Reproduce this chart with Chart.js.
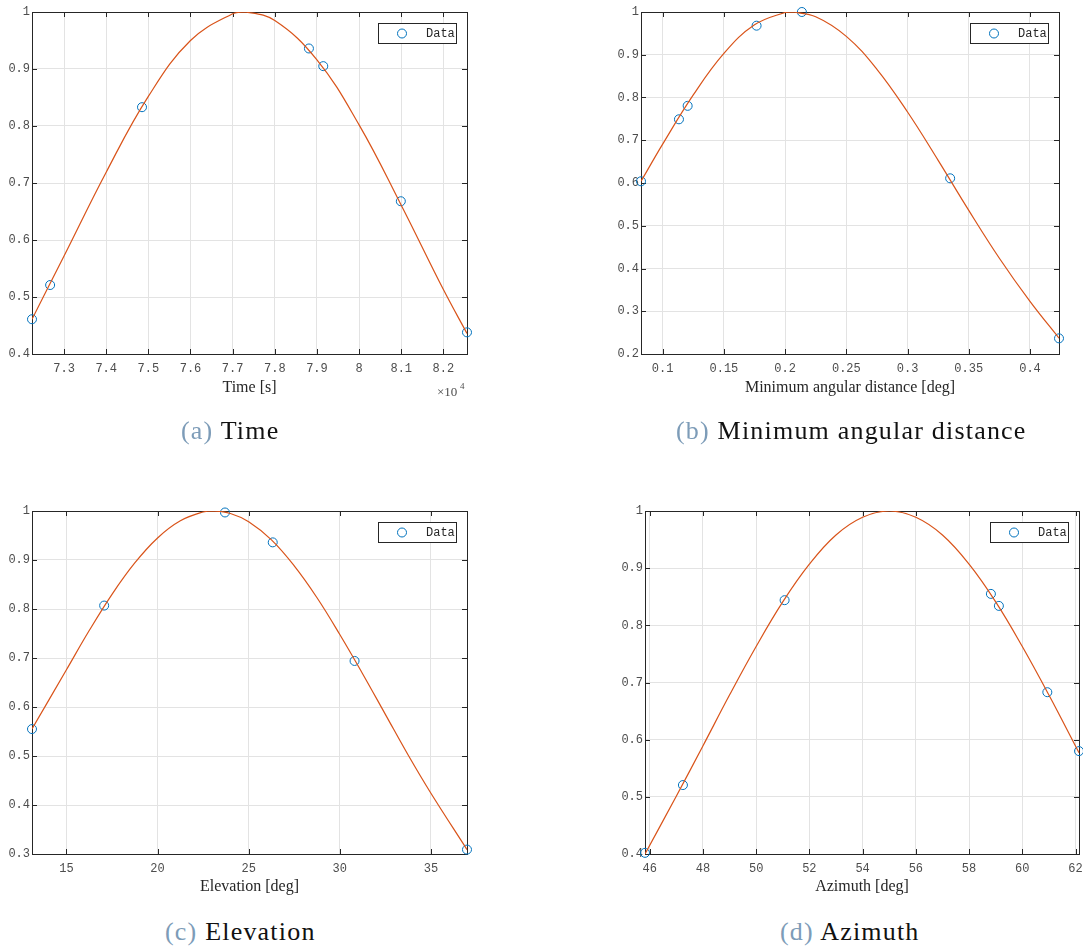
<!DOCTYPE html>
<html>
<head>
<meta charset="utf-8">
<script src="https://cdn.jsdelivr.net/npm/chart.js@4.4.0/dist/chart.umd.min.js"></script>
<style>
html, body { margin: 0; padding: 0; background: #fff; }
body { position: relative; width: 1083px; height: 950px; overflow: hidden; }
canvas { position: absolute; }
.cap { position: absolute; font-family: "Liberation Serif", serif; font-size: 26px; line-height: 30px; color: #111; white-space: nowrap; letter-spacing: 1.2px; }
.cap span { color: #7d9cb8; }
</style>
</head>
<body>
<canvas id="chartA" width="480" height="420" style="left:0;top:0"></canvas>
<canvas id="chartB" width="560" height="420" style="left:540px;top:0"></canvas>
<canvas id="chartC" width="480" height="420" style="left:0;top:490px"></canvas>
<canvas id="chartD" width="560" height="420" style="left:560px;top:490px"></canvas>
<div class="cap" style="left:181px;top:416px"><span>(a)</span> Time</div>
<div class="cap" style="left:676px;top:416px"><span>(b)</span> Minimum angular distance</div>
<div class="cap" style="left:165px;top:917px"><span>(c)</span> Elevation</div>
<div class="cap" style="left:780px;top:917px"><span>(d)</span> Azimuth</div>
<script>
// (a) time, x in units of 1e4 s
var timeX = [7.224, 7.267, 7.485, 7.881, 7.915, 8.099, 8.256];
var timeY = [0.461, 0.521, 0.833, 0.936, 0.905, 0.668, 0.438];
var timeFitX = [7.224, 7.3, 7.4, 7.5, 7.6, 7.7, 7.73, 7.8, 7.9, 8.0, 8.1, 8.2, 8.256];
var timeFitY = [0.461, 0.572, 0.719, 0.852, 0.950, 0.997, 1.0, 0.985, 0.916, 0.802, 0.661, 0.513, 0.436];
var timeTicksX = [7.3, 7.4, 7.5, 7.6, 7.7, 7.8, 7.9, 8, 8.1, 8.2];
var timeTicksY = [0.4, 0.5, 0.6, 0.7, 0.8, 0.9, 1];

// (b) minimum angular distance [deg]
var distX = [0.0823, 0.1133, 0.1204, 0.1767, 0.2137, 0.3348, 0.4237];
var distY = [0.604, 0.749, 0.7805, 0.968, 1.0, 0.611, 0.2366];
var distFitX = [0.0823, 0.1, 0.125, 0.15, 0.175, 0.2, 0.2055, 0.225, 0.25, 0.275, 0.3, 0.325, 0.35, 0.375, 0.4, 0.4237];
var distFitY = [0.604, 0.691, 0.806, 0.903, 0.970, 0.999, 1.0, 0.989, 0.943, 0.866, 0.766, 0.653, 0.536, 0.424, 0.323, 0.237];
var distTicksX = [0.1, 0.15, 0.2, 0.25, 0.3, 0.35, 0.4];
var distTicksY = [0.2, 0.3, 0.4, 0.5, 0.6, 0.7, 0.8, 0.9, 1];

// (c) elevation [deg]
var elevX = [13.11, 17.07, 23.70, 26.32, 30.81, 36.98];
var elevY = [0.555, 0.807, 0.997, 0.936, 0.694, 0.309];
var elevFitX = [13.11, 15, 16.25, 17.5, 18.75, 20, 21.25, 22.5, 23.06, 24, 25, 26.25, 27.5, 28.75, 30, 31.25, 32.5, 33.75, 35, 36.98];
var elevFitY = [0.555, 0.676, 0.756, 0.830, 0.894, 0.945, 0.980, 0.998, 1.0, 0.995, 0.978, 0.941, 0.888, 0.823, 0.748, 0.668, 0.585, 0.502, 0.424, 0.309];
var elevTicksX = [15, 20, 25, 30, 35];
var elevTicksY = [0.3, 0.4, 0.5, 0.6, 0.7, 0.8, 0.9, 1];

// (d) azimuth [deg]
var aziX = [45.825, 47.25, 51.07, 58.82, 59.12, 60.94, 62.13];
var aziY = [0.402, 0.5206, 0.844, 0.855, 0.834, 0.683, 0.580];
var aziFitX = [45.825, 47, 48, 49, 50, 51, 52, 53, 54, 55, 56, 57, 58, 59, 60, 61, 62.13];
var aziFitY = [0.400, 0.501, 0.589, 0.678, 0.763, 0.841, 0.907, 0.958, 0.989, 1.0, 0.989, 0.958, 0.907, 0.841, 0.763, 0.678, 0.577];
var aziTicksX = [46, 48, 50, 52, 54, 56, 58, 60, 62];
var aziTicksY = [0.4, 0.5, 0.6, 0.7, 0.8, 0.9, 1];

var monoFont = { family: 'Liberation Mono', size: 12 };
var axisColor = '#262626';

function toPts(xs, ys) {
  return xs.map(function (x, i) { return { x: x, y: ys[i] }; });
}

// box, inward ticks on all sides, legend and the exponent label
var framePlugin = {
  id: 'frame',
  beforeDatasetsDraw: function (chart) {
    var a = chart.chartArea, c = chart.ctx;
    var sx = chart.scales.x, sy = chart.scales.y;
    c.save();
    c.strokeStyle = axisColor;
    c.lineWidth = 1;
    c.beginPath();
    sx.ticks.forEach(function (t) {
      var px = Math.round(sx.getPixelForValue(t.value)) + 0.5;
      c.moveTo(px, a.bottom); c.lineTo(px, a.bottom - 5);
      c.moveTo(px, a.top); c.lineTo(px, a.top + 5);
    });
    sy.ticks.forEach(function (t) {
      var py = Math.round(sy.getPixelForValue(t.value)) + 0.5;
      c.moveTo(a.left, py); c.lineTo(a.left + 5, py);
      c.moveTo(a.right, py); c.lineTo(a.right - 5, py);
    });
    c.stroke();
    c.strokeRect(Math.round(a.left) + 0.5, Math.round(a.top) + 0.5,
      Math.round(a.right - a.left), Math.round(a.bottom - a.top));
    c.restore();
  },
  afterDatasetsDraw: function (chart, args, opts) {
    var a = chart.chartArea, c = chart.ctx;
    var l = Math.round(a.right) - 89, t = Math.round(a.top) + 11;
    c.save();
    c.fillStyle = '#fff';
    c.fillRect(l, t, 78, 20);
    c.strokeStyle = axisColor;
    c.lineWidth = 1;
    c.strokeRect(l + 0.5, t + 0.5, 78, 20);
    c.beginPath();
    c.arc(l + 24, t + 10.5, 4.5, 0, Math.PI * 2);
    c.strokeStyle = '#0072bd';
    c.stroke();
    c.fillStyle = axisColor;
    c.font = '12px "Liberation Mono"';
    c.textBaseline = 'middle';
    c.fillText(chart.data.datasets[1].label, l + 48, t + 11);
    if (opts.exponent) {
      c.fillStyle = '#4d4d4d';
      c.font = '13px "Liberation Serif"';
      c.textBaseline = 'alphabetic';
      c.fillText('\u00d710', a.right - 30, a.bottom + 42);
      c.font = '9px "Liberation Serif"';
      c.fillText(opts.exponent, a.right - 7, a.bottom + 35);
    }
    c.restore();
  }
};

function makeChart(id, box, d) {
  var ctx = document.getElementById(id).getContext('2d');
  return new Chart(ctx, {
    type: 'scatter',
    data: {
      datasets: [{
        label: 'Fit',
        data: toPts(d.fitX, d.fitY),
        showLine: true,
        borderColor: '#d95319',
        borderWidth: 1.2,
        pointRadius: 0,
        tension: 0.4
      }, {
        label: 'Data',
        data: toPts(d.x, d.y),
        pointStyle: 'circle',
        pointRadius: 4.5,
        borderColor: '#0072bd',
        backgroundColor: 'rgba(0,0,0,0)',
        borderWidth: 1,
        clip: false
      }]
    },
    options: {
      responsive: false,
      animation: false,
      events: [],
      layout: { padding: { left: box.pl, right: box.pr, top: box.pt, bottom: 0 } },
      plugins: {
        legend: { display: false },
        tooltip: { enabled: false },
        frame: { exponent: d.exponent }
      },
      scales: {
        x: {
          type: 'linear',
          min: d.x[0],
          max: d.x[d.x.length - 1],
          afterBuildTicks: function (s) { s.ticks = d.ticksX.map(function (v) { return { value: v }; }); },
          afterFit: function (s) { s.height = box.xh; },
          grid: { color: '#e3e3e3', drawTicks: false },
          border: { display: false },
          ticks: { font: monoFont, color: '#4d4d4d', padding: 8, maxRotation: 0, autoSkip: false,
            callback: function (v) { return String(v); } },
          title: { display: true, text: d.title, color: '#262626',
            font: { family: 'Liberation Serif', size: 16 },
            padding: { top: 0, bottom: box.xh - box.gap - 9.6 } }
        },
        y: {
          type: 'linear',
          min: d.ticksY[0],
          max: d.ticksY[d.ticksY.length - 1],
          afterBuildTicks: function (s) { s.ticks = d.ticksY.map(function (v) { return { value: v }; }); },
          afterFit: function (s) { s.width = box.yw; },
          grid: { color: '#e3e3e3', drawTicks: false },
          border: { display: false },
          ticks: { font: monoFont, color: '#4d4d4d', padding: 2, autoSkip: false,
            callback: function (v) { return String(v); } }
        }
      }
    },
    plugins: [framePlugin]
  });
}

makeChart('chartA', { pl: 0, yw: 32, pr: 13, pt: 12, xh: 66, gap: 34 },
  { x: timeX, y: timeY, fitX: timeFitX, fitY: timeFitY, ticksX: timeTicksX, ticksY: timeTicksY, title: 'Time [s]', exponent: '4' });
makeChart('chartB', { pl: 40, yw: 61, pr: 41, pt: 12, xh: 66, gap: 34 },
  { x: distX, y: distY, fitX: distFitX, fitY: distFitY, ticksX: distTicksX, ticksY: distTicksY, title: 'Minimum angular distance [deg]' });
makeChart('chartC', { pl: 0, yw: 32, pr: 13, pt: 21, xh: 56, gap: 33 },
  { x: elevX, y: elevY, fitX: elevFitX, fitY: elevFitY, ticksX: elevTicksX, ticksY: elevTicksY, title: 'Elevation [deg]' });
makeChart('chartD', { pl: 40, yw: 45, pr: 41, pt: 21, xh: 56, gap: 33 },
  { x: aziX, y: aziY, fitX: aziFitX, fitY: aziFitY, ticksX: aziTicksX, ticksY: aziTicksY, title: 'Azimuth [deg]' });
</script>
</body>
</html>
